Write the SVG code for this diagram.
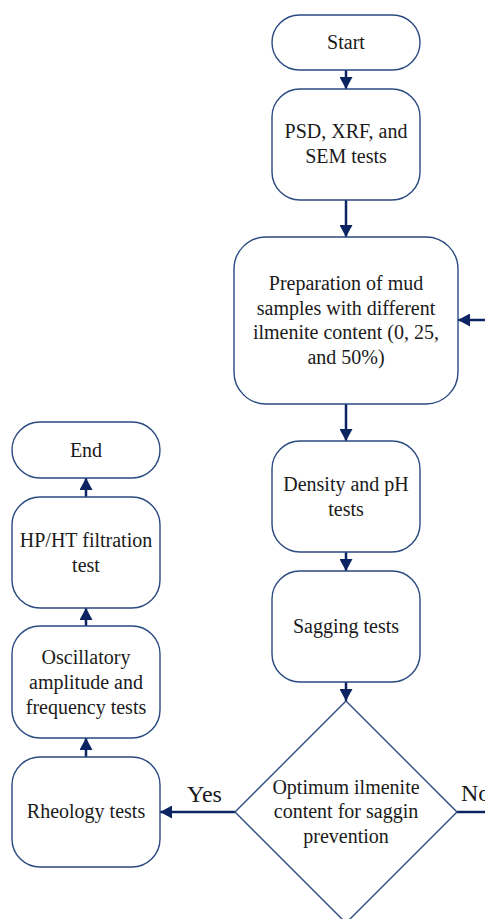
<svg xmlns="http://www.w3.org/2000/svg" width="485" height="919" viewBox="0 0 485 919">
<style>
.box{fill:#fff;stroke:#2a4a80;stroke-width:1.4}
text{font-family:"Liberation Serif","Times New Roman",Times,"Noto Serif","DejaVu Serif",FreeSerif,Tinos,Georgia,serif;fill:#1a1a1a}
.t{font-size:20px;text-anchor:middle}
.lbl{font-size:24px}
.c{stroke:#0c2461;stroke-width:2.5;fill:none;marker-end:url(#ah)}
.cn{stroke:#0c2461;stroke-width:2.5;fill:none}
</style>
<defs>
<marker id="ah" markerUnits="userSpaceOnUse" markerWidth="13" markerHeight="13" refX="12" refY="6.5" orient="auto">
<path d="M0,0 L12,6.5 L0,13 z" fill="#0c2461"/>
</marker>
</defs>
<rect width="485" height="919" fill="#fff"/>
<g id="connectors">
<line class="c" x1="346" y1="70" x2="346" y2="89"/>
<line class="c" x1="346" y1="200" x2="346" y2="237"/>
<line class="c" x1="346" y1="404" x2="346" y2="441"/>
<line class="c" x1="346" y1="552" x2="346" y2="571"/>
<line class="c" x1="346" y1="682" x2="346" y2="701"/>
<line class="c" x1="485" y1="320" x2="458" y2="320"/>
<line class="c" x1="235" y1="812" x2="160" y2="812"/>
<line class="cn" x1="457" y1="812" x2="485" y2="812"/>
<line class="c" x1="86" y1="757" x2="86" y2="738"/>
<line class="c" x1="86" y1="626" x2="86" y2="608"/>
<line class="c" x1="86" y1="497" x2="86" y2="478"/>
<text class="lbl" x="187" y="802">Yes</text>
<text class="lbl" x="461" y="801">No</text>
</g>
<g id="start">
<rect class="box" x="272" y="15" width="148" height="55" rx="27.5"/>
<text class="t" x="346" y="49">Start</text>
</g>
<g id="psd">
<rect class="box" x="272" y="89" width="148" height="111" rx="28"/>
<text class="t" x="346" y="138">PSD, XRF, and</text>
<text class="t" x="346" y="163">SEM tests</text>
</g>
<g id="prep">
<rect class="box" x="234" y="237" width="224" height="167" rx="32"/>
<text class="t" x="346" y="290">Preparation of mud</text>
<text class="t" x="346" y="315">samples with different</text>
<text class="t" x="346" y="339">ilmenite content (0, 25,</text>
<text class="t" x="346" y="364">and 50%)</text>
</g>
<g id="density">
<rect class="box" x="272" y="441" width="148" height="111" rx="28"/>
<text class="t" x="346" y="491">Density and pH</text>
<text class="t" x="346" y="516">tests</text>
</g>
<g id="sagging">
<rect class="box" x="272" y="571" width="148" height="111" rx="28"/>
<text class="t" x="346" y="633">Sagging tests</text>
</g>
<g id="decision">
<polygon class="box" points="346,701 457,812 346,923 235,812"/>
<text class="t" x="346" y="794">Optimum ilmenite</text>
<text class="t" x="346" y="818">content for saggin</text>
<text class="t" x="346" y="843">prevention</text>
</g>
<g id="end">
<rect class="box" x="12" y="422" width="148" height="56" rx="28"/>
<text class="t" x="86" y="457">End</text>
</g>
<g id="hpht">
<rect class="box" x="12" y="497" width="148" height="111" rx="28"/>
<text class="t" x="86" y="547">HP/HT filtration</text>
<text class="t" x="86" y="572">test</text>
</g>
<g id="oscillatory">
<rect class="box" x="12" y="626" width="148" height="112" rx="28"/>
<text class="t" x="86" y="664">Oscillatory</text>
<text class="t" x="86" y="689">amplitude and</text>
<text class="t" x="86" y="714">frequency tests</text>
</g>
<g id="rheology">
<rect class="box" x="12" y="757" width="148" height="110" rx="28"/>
<text class="t" x="86" y="818">Rheology tests</text>
</g>
</svg>
